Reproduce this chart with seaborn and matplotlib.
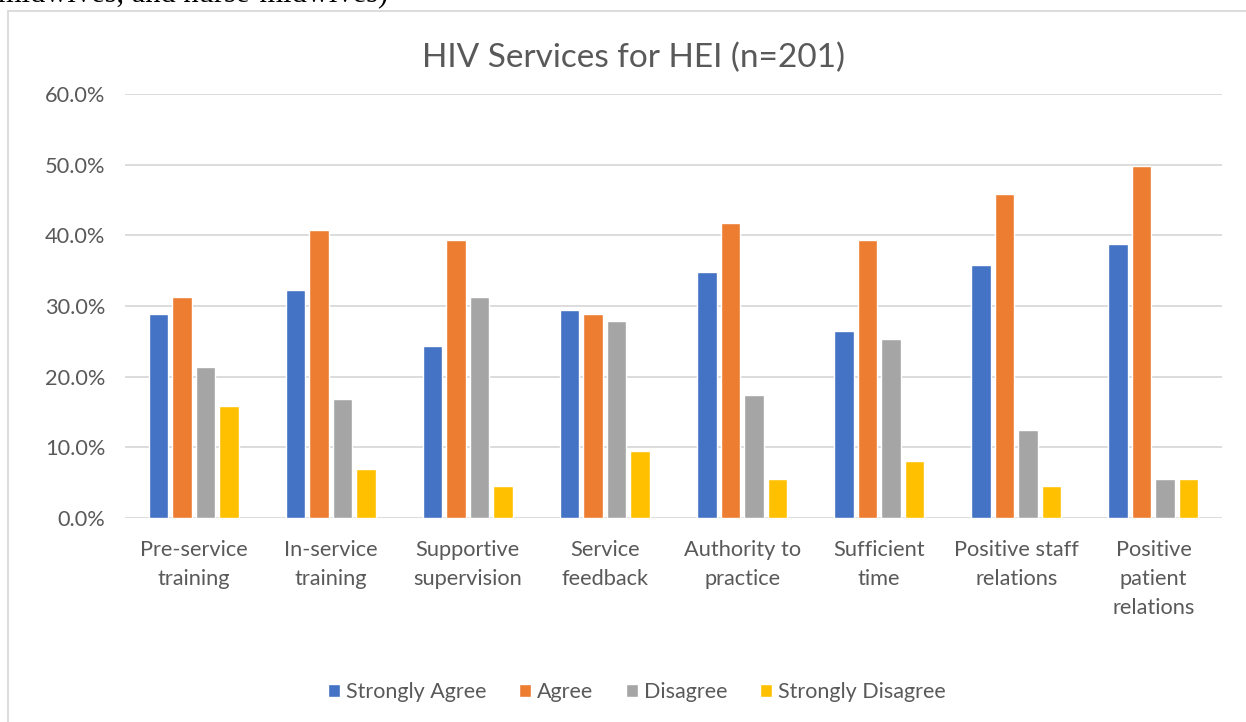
import matplotlib
matplotlib.use("Agg")
import matplotlib.pyplot as plt
import matplotlib.patches as patches
from matplotlib.ticker import FuncFormatter, MultipleLocator
import seaborn as sns
import pandas as pd

categories = ["Pre-service\ntraining", "In-service\ntraining", "Supportive\nsupervision",
              "Service\nfeedback", "Authority to\npractice", "Sufficient\ntime",
              "Positive staff\nrelations", "Positive\npatient\nrelations"]
responses = ["Strongly Agree", "Agree", "Disagree", "Strongly Disagree"]
strongly_agree = [28.9, 32.3, 24.4, 29.4, 34.8, 26.4, 35.8, 38.8]
agree = [31.3, 40.8, 39.3, 28.9, 41.8, 39.3, 45.8, 49.8]
disagree = [21.4, 16.9, 31.3, 27.9, 17.4, 25.4, 12.4, 5.5]
strongly_disagree = [15.9, 7.0, 4.5, 9.5, 5.5, 8.0, 4.5, 5.5]
colors = ["#4472C4", "#ED7D31", "#A5A5A5", "#FFC000"]

# long table for seaborn
rows = []
for resp, vals in zip(responses, [strongly_agree, agree, disagree, strongly_disagree]):
    for cat, v in zip(categories, vals):
        rows.append({"category": cat, "response": resp, "pct": v})
df = pd.DataFrame(rows)

sns.set_theme(style="white")
plt.rcParams['font.family'] = ['Lato', 'DejaVu Sans']
grey = "#595959"

fig = plt.figure(figsize=(12.46, 7.22), dpi=100)
ax = fig.add_axes([125/1246, 1-518/722, (1222-125)/1246, (518-94)/722])

sns.barplot(data=df, x="category", y="pct", hue="response", order=categories,
            hue_order=responses, palette=colors, saturation=1, width=0.686, gap=0.17,
            ax=ax, zorder=3)

ax.set_ylim(0, 60)
ax.set_xlim(-0.5, len(categories) - 0.5)
ax.yaxis.set_major_locator(MultipleLocator(10))
ax.yaxis.set_major_formatter(FuncFormatter(lambda v, p: f"{v:.1f}%"))
ax.grid(axis="y", color="#d9d9d9", linewidth=1.3, zorder=0)
ax.set_axisbelow(True)
for s in ax.spines.values():
    s.set_visible(False)
ax.set_xlabel("")
ax.set_ylabel("")
ax.tick_params(axis="both", length=0, labelsize=15.7, labelcolor=grey)
ax.tick_params(axis="x", pad=16)
ax.tick_params(axis="y", pad=14)
for t in ax.get_xticklabels():
    t.set_linespacing(1.55)

ax.legend(loc="center", bbox_to_anchor=(637/1246, 1-692/722), bbox_transform=fig.transFigure,
          ncol=4, frameon=False, fontsize=15.5, labelcolor=grey, handlelength=0.55,
          handleheight=0.55, handletextpad=0.3, columnspacing=1.5)

fig.text(634/1246, 1-58/722, "HIV Services for HEI (n=201)", ha="center", va="center",
         fontsize=24, color=grey)

# chart frame and the cut-off document line above it
fig.add_artist(patches.Rectangle((8/1246, -0.05), 1.1, 1-11/722+0.05, transform=fig.transFigure,
                                 fill=False, edgecolor="#d9d9d9", linewidth=1.3, clip_on=False))
fig.text(-2/1246, 1-2/722, "midwives, and nurse-midwives)", ha="left", va="baseline",
         fontsize=22, family="Liberation Serif", color="black")

fig.savefig("out.png", dpi=100, facecolor="white")
